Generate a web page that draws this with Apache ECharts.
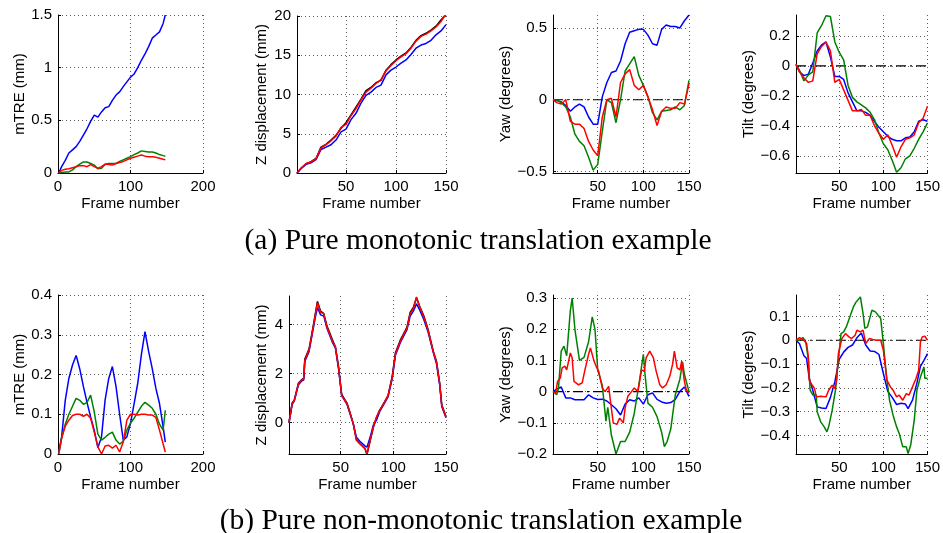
<!DOCTYPE html>
<html>
<head>
<meta charset="utf-8">
<script src="https://cdn.jsdelivr.net/npm/echarts@6/dist/echarts.min.js"></script>
<style>
html, body { margin: 0; padding: 0; background: #fff; }
#chart { width: 943px; height: 533px; }
</style>
</head>
<body>
<div id="chart"></div>
<script>
// ---- data ----
var fr5 = [1,5,10,15,20,25,30,35,40,45,50,55,60,65,70,75,80,85,90,95,100,105,110,115,120,125,130,135,140,145,150];
var mtreFrames = [1,5,10,15,20,25,30,35,40,45,50,55,60,65,70,75,80,85,90,95,100,105,110,115,120,125,130,135,140,145,148];
var zeroFrames = [1, 150];
var zeroVals = [0, 0];

var xTicksMtre = [0, 100, 200];
var xTicksFrame = [50, 100, 150];

// (a) monotonic
var mtreA_blue = [0,0.06,0.12,0.19,0.22,0.25,0.30,0.36,0.42,0.49,0.55,0.53,0.58,0.62,0.63,0.69,0.74,0.77,0.82,0.865,0.91,0.94,1.0,1.07,1.13,1.2,1.28,1.31,1.34,1.42,1.5];
var mtreA_green = [0,0.005,0.01,0.01,0.03,0.06,0.085,0.105,0.105,0.09,0.075,0.04,0.045,0.08,0.09,0.09,0.09,0.11,0.125,0.14,0.155,0.175,0.19,0.21,0.205,0.2,0.2,0.19,0.175,0.165,0.16];
var mtreA_red = [0,0.025,0.035,0.04,0.05,0.06,0.07,0.07,0.06,0.08,0.06,0.045,0.06,0.085,0.08,0.075,0.09,0.1,0.11,0.125,0.14,0.15,0.16,0.17,0.16,0.155,0.155,0.15,0.14,0.13,0.125];
var mtreA_yTicks = [0, 0.5, 1, 1.5];

var zA_black = [0,0.6,1.15,1.45,1.85,3.3,3.65,4.2,4.8,5.7,6.4,7.4,8.4,9.4,10.5,10.9,11.5,11.8,13.1,13.8,14.4,14.9,15.3,16.0,16.9,17.5,17.8,18.2,18.7,19.5,20.2];
var zA_blue = [0,0.55,1.1,1.3,1.7,3.0,3.3,3.6,4.2,5.25,5.6,6.8,7.6,8.9,9.9,10.3,10.9,11.2,12.5,13.1,13.5,14.0,14.4,15.1,15.9,16.3,16.5,16.9,17.6,18.1,18.9];
var zA_red = [0,0.6,1.2,1.4,1.8,3.2,3.6,4.1,4.7,5.8,6.2,7.3,8.2,9.3,10.3,10.8,11.4,11.9,13.0,13.7,14.3,14.8,15.2,15.9,16.8,17.4,17.7,18.1,18.6,19.3,20.3];
var zA_yTicks = [0, 5, 10, 15, 20];

var yawA_blue = [0,-0.005,-0.015,-0.04,-0.08,-0.05,-0.03,-0.05,-0.12,-0.17,-0.17,0.02,0.12,0.19,0.2,0.27,0.39,0.47,0.48,0.49,0.49,0.45,0.39,0.38,0.49,0.52,0.51,0.51,0.5,0.55,0.59];
var yawA_green = [0,0,-0.02,-0.05,-0.12,-0.24,-0.29,-0.32,-0.4,-0.49,-0.45,-0.22,0.0,-0.02,-0.16,0.0,0.2,0.25,0.3,0.17,0.1,0.02,-0.09,-0.14,-0.08,-0.075,-0.07,-0.05,-0.07,-0.04,0.135];
var yawA_red = [0,-0.02,-0.03,0.0,-0.15,-0.17,-0.17,-0.2,-0.29,-0.35,-0.39,-0.12,0.0,0.01,-0.12,0.12,0.18,0.21,0.1,0.07,0.1,0.02,-0.07,-0.18,-0.08,-0.05,-0.06,-0.06,-0.02,-0.03,0.11];
var yawA_yTicks = [-0.5, 0, 0.5];

var tiltA_blue = [0.01,-0.04,-0.065,-0.055,0.02,0.1,0.14,0.16,0.06,-0.07,-0.07,-0.09,-0.18,-0.24,-0.3,-0.3,-0.31,-0.33,-0.37,-0.41,-0.44,-0.47,-0.49,-0.5,-0.5,-0.48,-0.475,-0.44,-0.37,-0.36,-0.37];
var tiltA_green = [0.01,-0.03,-0.1,-0.06,-0.04,0.22,0.27,0.335,0.33,0.16,0.09,0.04,-0.13,-0.21,-0.24,-0.26,-0.28,-0.31,-0.36,-0.45,-0.52,-0.56,-0.63,-0.71,-0.68,-0.62,-0.6,-0.55,-0.49,-0.44,-0.38];
var tiltA_red = [0.01,-0.04,-0.08,-0.11,-0.1,0.08,0.13,0.16,0.1,-0.11,-0.09,-0.16,-0.23,-0.3,-0.3,-0.29,-0.33,-0.33,-0.4,-0.45,-0.49,-0.46,-0.53,-0.61,-0.54,-0.49,-0.48,-0.46,-0.38,-0.35,-0.27];
var tiltA_yTicks = [-0.6, -0.4, -0.2, 0, 0.2];

// (b) non-monotonic
var mtreB_blue = [0.005,0.043,0.135,0.19,0.224,0.248,0.214,0.17,0.13,0.093,0.06,0.016,0.043,0.136,0.19,0.22,0.17,0.1,0.035,0.043,0.077,0.127,0.178,0.25,0.308,0.258,0.215,0.165,0.127,0.068,0.03];
var mtreB_green = [0,0.04,0.075,0.1,0.12,0.14,0.135,0.125,0.13,0.148,0.106,0.05,0.035,0.042,0.05,0.055,0.035,0.025,0.032,0.06,0.078,0.09,0.105,0.12,0.13,0.123,0.115,0.1,0.075,0.06,0.11];
var mtreB_red = [0,0.04,0.07,0.085,0.097,0.1,0.1,0.095,0.1,0.09,0.055,0.018,0.0,0.02,0.022,0.015,0.022,0.005,0.03,0.085,0.1,0.1,0.098,0.1,0.1,0.098,0.098,0.092,0.06,0.025,0.005];
var mtreB_yTicks = [0, 0.1, 0.2, 0.3, 0.4];

var zB_frames = [1,4,6,10,13,15,16,20,23,26,28,31,34,37,42,45,48,51,56,59,62,65,68,73,75,78,81,84,87,91,95,99,102,107,110,113,116,119,122,125,129,133,138,141,144,146,150];
var zB_black = [0,0.8,0.92,1.62,1.75,1.82,2.6,3.0,3.7,4.45,4.95,4.55,4.45,3.95,3.4,3.1,2.3,1.15,0.8,0.4,-0.05,-0.7,-0.85,-1.05,-1.3,-0.75,-0.2,0.2,0.5,0.8,1.1,1.9,2.85,3.4,3.65,3.9,4.5,4.7,5.1,4.75,4.35,3.8,2.9,2.5,1.6,0.72,0.25];
var zB_blue = [0,0.75,0.88,1.55,1.7,1.75,2.5,2.9,3.6,4.3,4.7,4.4,4.35,3.85,3.3,3.05,2.2,1.1,0.75,0.35,-0.05,-0.6,-0.75,-0.95,-1.0,-0.6,-0.1,0.1,0.45,0.75,1.05,1.8,2.75,3.3,3.55,3.8,4.35,4.55,4.85,4.6,4.2,3.7,2.85,2.4,1.55,0.65,0.2];
var zB_red = [0,0.78,0.9,1.6,1.73,1.8,2.55,2.95,3.65,4.4,4.9,4.5,4.45,3.9,3.35,3.1,2.25,1.1,0.78,0.37,-0.04,-0.72,-0.85,-1.05,-1.27,-0.72,-0.18,0.23,0.5,0.78,1.1,1.86,2.8,3.35,3.63,3.85,4.45,4.65,5.13,4.72,4.3,3.77,2.88,2.47,1.6,0.7,0.23];
var zB_yTicks = [0, 2, 4];

var yawB_blue = [0,0.008,0.015,-0.02,-0.02,-0.026,-0.026,-0.026,-0.01,-0.02,-0.025,-0.024,-0.03,-0.042,-0.055,-0.075,-0.04,-0.026,-0.03,-0.02,-0.04,-0.01,-0.004,-0.025,-0.033,-0.037,-0.035,-0.025,0.001,0.015,-0.015];
var yawB_greenFrames = [1,5,7,10,13,16,20,22,25,30,35,40,44,47,50,55,59,61,65,70,75,80,85,90,95,100,102,105,110,115,120,123,126,130,135,140,143,145,150];
var yawB_green = [0,-0.01,0.01,0.13,0.146,0.115,0.26,0.3,0.2,0.1,0.11,0.16,0.24,0.2,0.07,0.02,-0.095,-0.05,-0.14,-0.2,-0.16,-0.16,-0.13,-0.07,0.02,0.12,0.05,-0.037,-0.05,-0.08,-0.13,-0.176,-0.16,-0.12,-0.01,0.04,0.095,0.055,0];
var yawB_redFrames = [1,4,6,9,11,14,16,20,22,24,29,33,36,40,42,46,49,51,55,58,62,64,67,71,74,78,80,83,87,90,94,98,101,103,107,111,114,118,121,125,129,132,134,137,140,142,145,147,150];
var yawB_red = [0,-0.004,0.033,0.044,0.076,0.082,0.07,0.124,0.108,0.033,0.022,0.028,0.07,0.12,0.14,0.098,0.076,0.066,0.012,0,0.017,-0.031,-0.1,-0.105,-0.085,-0.1,-0.053,-0.015,0,0.012,0,0.07,0.066,0.108,0.13,0.108,0.066,0.022,0.012,0.022,0.05,0.088,0.13,0.076,0.07,0.098,0.033,0.006,-0.004];
var yawB_yTicks = [-0.2, -0.1, 0, 0.1, 0.2, 0.3];

var tiltB_blueFrames = [1,5,10,13,16,20,25,30,35,40,45,50,55,60,65,70,75,80,85,90,95,100,105,110,115,120,125,128,133,138,142,146,150];
var tiltB_blue = [0,-0.015,-0.065,-0.077,-0.16,-0.21,-0.28,-0.285,-0.287,-0.24,-0.175,-0.08,-0.05,-0.03,-0.02,0.01,0.03,-0.02,-0.045,-0.047,-0.06,-0.14,-0.215,-0.24,-0.27,-0.265,-0.268,-0.287,-0.252,-0.18,-0.11,-0.085,-0.056];
var tiltB_greenFrames = [1,5,9,12,15,17,20,24,25,29,33,36,38,42,46,49,52,55,58,62,66,69,74,77,79,82,87,91,97,100,104,107,111,115,118,122,126,128,131,135,138,142,146,147,150];
var tiltB_green = [0,0,0.011,-0.007,-0.08,-0.21,-0.23,-0.23,-0.3,-0.343,-0.364,-0.385,-0.364,-0.294,-0.203,-0.084,0.028,0.035,0.056,0.098,0.14,0.16,0.182,0.112,0.05,0.056,0.126,0.119,0.091,-0.014,-0.168,-0.252,-0.315,-0.364,-0.392,-0.448,-0.448,-0.476,-0.44,-0.336,-0.21,-0.154,-0.112,-0.16,-0.16];
var tiltB_redFrames = [1,5,9,13,15,16,18,22,24,29,35,38,42,45,47,49,53,57,61,64,68,70,74,77,80,84,88,92,97,100,104,108,111,115,118,122,126,129,133,137,140,142,144,147,150];
var tiltB_red = [0,0.011,0.003,-0.014,-0.07,-0.168,-0.182,-0.203,-0.238,-0.235,-0.238,-0.21,-0.189,-0.203,-0.168,-0.056,0.007,0.028,0.014,0.007,0.021,0.042,0.035,0.042,-0.014,0.007,0.003,0,0,-0.042,-0.168,-0.196,-0.21,-0.238,-0.231,-0.252,-0.224,-0.231,-0.196,-0.161,-0.126,-0.007,0.014,0.017,0];
var tiltB_yTicks = [-0.4, -0.3, -0.2, -0.1, 0, 0.1];

// ---- layout ----
var FONT = 'Liberation Sans';
var BLUE = '#0000ff', GREEN = '#008000', RED = '#ff0000', BLACK = '#000000';

var grids = [], xAxes = [], yAxes = [], series = [];

function fmt(v) {
  return String(v).replace('-', '\u2212');
}

function zip(xs, ys) {
  var out = [];
  for (var i = 0; i < xs.length; i++) out.push([xs[i], ys[i]]);
  return out;
}

// box: [left, top, right, bottom] in px
function addPanel(box, xr, xt, yr, yt, yname, gap) {
  var i = grids.length;
  grids.push({left: box[0], top: box[1], width: box[2] - box[0], height: box[3] - box[1]});
  xAxes.push({
    gridIndex: i, type: 'value', min: xr[0], max: xr[1],
    name: 'Frame number', nameLocation: 'middle', nameGap: 23,
    nameTextStyle: {fontFamily: FONT, fontSize: 15, color: '#000'},
    axisLine: {show: true, onZero: false, lineStyle: {color: '#000', width: 1}},
    axisTick: {show: true, inside: true, length: 3, customValues: xt, lineStyle: {color: '#000'}},
    axisLabel: {show: true, customValues: xt, margin: 6, fontFamily: FONT, fontSize: 15, color: '#000', formatter: fmt},
    splitLine: {show: true, lineStyle: {color: '#333', type: [1, 3], width: 0.8}}
  });
  yAxes.push({
    gridIndex: i, type: 'value', min: yr[0], max: yr[1],
    name: yname, nameLocation: 'middle', nameGap: gap,
    nameTextStyle: {fontFamily: FONT, fontSize: 15, color: '#000'},
    axisLine: {show: true, onZero: false, lineStyle: {color: '#000', width: 1}},
    axisTick: {show: true, inside: true, length: 3, customValues: yt, lineStyle: {color: '#000'}},
    axisLabel: {show: true, customValues: yt, margin: 6, fontFamily: FONT, fontSize: 15, color: '#000', formatter: fmt},
    splitLine: {show: true, lineStyle: {color: '#333', type: [1, 3], width: 0.8}}
  });
  return i;
}

function addLine(i, xs, ys, color, dash) {
  series.push({
    type: 'line', xAxisIndex: i, yAxisIndex: i,
    data: zip(xs, ys), showSymbol: false, symbol: 'none',
    lineStyle: {color: color, width: dash ? 1.1 : 1.5, type: dash || 'solid'},
    clip: true, silent: true, animation: false
  });
}

var DASHDOT = [10, 4, 2, 4];

var p = addPanel([58, 15, 203, 173], [0, 200], xTicksMtre, [0, 1.5], mtreA_yTicks, 'mTRE (mm)', 30);
addLine(p, mtreFrames, mtreA_blue, BLUE);
addLine(p, mtreFrames, mtreA_green, GREEN);
addLine(p, mtreFrames, mtreA_red, RED);

p = addPanel([297, 16, 446, 173], [1, 150], xTicksFrame, [0, 20], zA_yTicks, 'Z displacement (mm)', 28);
addLine(p, fr5, zA_black, BLACK);
addLine(p, fr5, zA_blue, BLUE);
addLine(p, fr5, zA_red, RED);

p = addPanel([553, 15, 689, 173], [1, 150], xTicksFrame, [-0.51, 0.59], yawA_yTicks, 'Yaw (degrees)', 38);
addLine(p, zeroFrames, zeroVals, BLACK, DASHDOT);
addLine(p, fr5, yawA_blue, BLUE);
addLine(p, fr5, yawA_green, GREEN);
addLine(p, fr5, yawA_red, RED);

p = addPanel([796, 15, 932, 173], [1, 150], xTicksFrame, [-0.715, 0.34], tiltA_yTicks, 'Tilt (degrees)', 40);
addLine(p, zeroFrames, zeroVals, BLACK, DASHDOT);
addLine(p, fr5, tiltA_blue, BLUE);
addLine(p, fr5, tiltA_green, GREEN);
addLine(p, fr5, tiltA_red, RED);

p = addPanel([58, 295, 203, 454], [0, 200], xTicksMtre, [0, 0.4], mtreB_yTicks, 'mTRE (mm)', 30);
addLine(p, mtreFrames, mtreB_blue, BLUE);
addLine(p, mtreFrames, mtreB_green, GREEN);
addLine(p, mtreFrames, mtreB_red, RED);

p = addPanel([289, 296, 446, 454], [1, 150], xTicksFrame, [-1.28, 5.17], zB_yTicks, 'Z displacement (mm)', 20);
addLine(p, zB_frames, zB_black, BLACK);
addLine(p, zB_frames, zB_blue, BLUE);
addLine(p, zB_frames, zB_red, RED);

p = addPanel([553, 295, 689, 454], [1, 150], xTicksFrame, [-0.2, 0.31], yawB_yTicks, 'Yaw (degrees)', 38);
addLine(p, zeroFrames, zeroVals, BLACK, DASHDOT);
addLine(p, fr5, yawB_blue, BLUE);
addLine(p, yawB_greenFrames, yawB_green, GREEN);
addLine(p, yawB_redFrames, yawB_red, RED);

p = addPanel([796, 295, 932, 454], [1, 150], xTicksFrame, [-0.478, 0.19], tiltB_yTicks, 'Tilt (degrees)', 40);
addLine(p, zeroFrames, zeroVals, BLACK, DASHDOT);
addLine(p, tiltB_blueFrames, tiltB_blue, BLUE);
addLine(p, tiltB_greenFrames, tiltB_green, GREEN);
addLine(p, tiltB_redFrames, tiltB_red, RED);

var chart = echarts.init(document.getElementById('chart'));
chart.setOption({
  backgroundColor: '#fff',
  animation: false,
  grid: grids,
  xAxis: xAxes,
  yAxis: yAxes,
  series: series,
  graphic: [
    {type: 'text', x: 478, y: 241, style: {text: '(a) Pure monotonic translation example', fontFamily: 'Liberation Serif', fontSize: 29.5, fill: '#000', align: 'center', verticalAlign: 'middle'}},
    {type: 'text', x: 481, y: 521, style: {text: '(b) Pure non-monotonic translation example', fontFamily: 'Liberation Serif', fontSize: 29.5, fill: '#000', align: 'center', verticalAlign: 'middle'}}
  ]
});
</script>
</body>
</html>
